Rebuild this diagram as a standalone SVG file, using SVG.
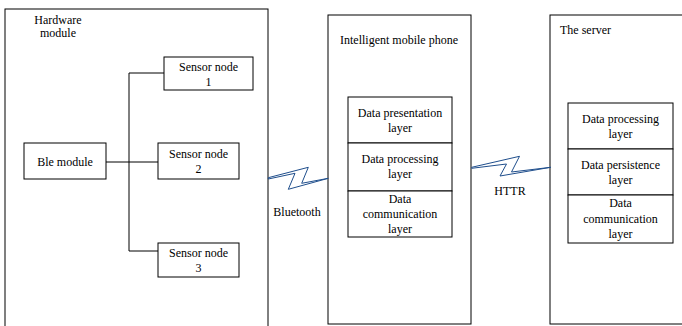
<svg xmlns="http://www.w3.org/2000/svg" width="682" height="326" viewBox="0 0 682 326">
<style>
.box{fill:#fff;stroke:#000;stroke-width:1}
text{font-family:'Liberation Serif','DejaVu Serif',serif;font-size:12px;fill:#000}
.c{text-anchor:middle}
.ln{fill:none;stroke:#000;stroke-width:1}
.bolt{fill:none;stroke:#1f4e8c;stroke-width:1}
</style>
<rect width="682" height="326" fill="#fff"/>
<g id="hardware">
<rect class="box" x="5" y="9" width="263" height="330"/>
<text class="c" x="58" y="24">Hardware</text>
<text class="c" x="58" y="37">module</text>
</g>
<g id="ble">
<rect class="box" x="24" y="143" width="82" height="36"/>
<text class="c" x="65" y="166">Ble module</text>
</g>
<g id="sensor1">
<rect class="box" x="164" y="57" width="89" height="33"/>
<text class="c" x="208.5" y="71">Sensor node</text>
<text class="c" x="208.5" y="86">1</text>
</g>
<g id="sensor2">
<rect class="box" x="158" y="143" width="81" height="36"/>
<text class="c" x="198.5" y="158">Sensor node</text>
<text class="c" x="198.5" y="173">2</text>
</g>
<g id="sensor3">
<rect class="box" x="158" y="243" width="81" height="34"/>
<text class="c" x="198.5" y="257">Sensor node</text>
<text class="c" x="198.5" y="272">3</text>
</g>
<g id="phone">
<rect class="box" x="328" y="15" width="143" height="309"/>
<text class="c" x="399" y="44">Intelligent mobile phone</text>
<rect class="box" x="348" y="97" width="104" height="46"/>
<text class="c" x="400" y="117">Data presentation</text>
<text class="c" x="400" y="132">layer</text>
<rect class="box" x="348" y="143" width="104" height="48"/>
<text class="c" x="400" y="163">Data processing</text>
<text class="c" x="400" y="178">layer</text>
<rect class="box" x="348" y="191" width="104" height="46"/>
<text class="c" x="400" y="203">Data</text>
<text class="c" x="400" y="218">communication</text>
<text class="c" x="400" y="233">layer</text>
</g>
<g id="server">
<rect class="box" x="550" y="15" width="140" height="309"/>
<text x="560" y="34">The server</text>
<rect class="box" x="568" y="103" width="105" height="46"/>
<text class="c" x="620.5" y="123">Data processing</text>
<text class="c" x="620.5" y="138">layer</text>
<rect class="box" x="568" y="149" width="105" height="46"/>
<text class="c" x="620.5" y="169">Data persistence</text>
<text class="c" x="620.5" y="184">layer</text>
<rect class="box" x="568" y="195" width="105" height="48"/>
<text class="c" x="620.5" y="207">Data</text>
<text class="c" x="620.5" y="223">communication</text>
<text class="c" x="620.5" y="238">layer</text>
</g>
<g id="connectors">
<path class="ln" d="M106,162 H158 M129,73 V251 M129,73 H164 M129,251 H158"/>
<polygon class="bolt" points="268.3,177.7 308.3,167.3 301.7,183.3 328.3,178.3 288.3,189.3 295,173.3 268.3,179"/>
<text class="c" x="297" y="216">Bluetooth</text>
<polygon class="bolt" points="471.7,167.3 519.5,156.3 511.5,172 550.7,167.3 500,176 506.5,164 471.7,168.3"/>
<text class="c" x="510" y="195">HTTR</text>
</g>
</svg>
